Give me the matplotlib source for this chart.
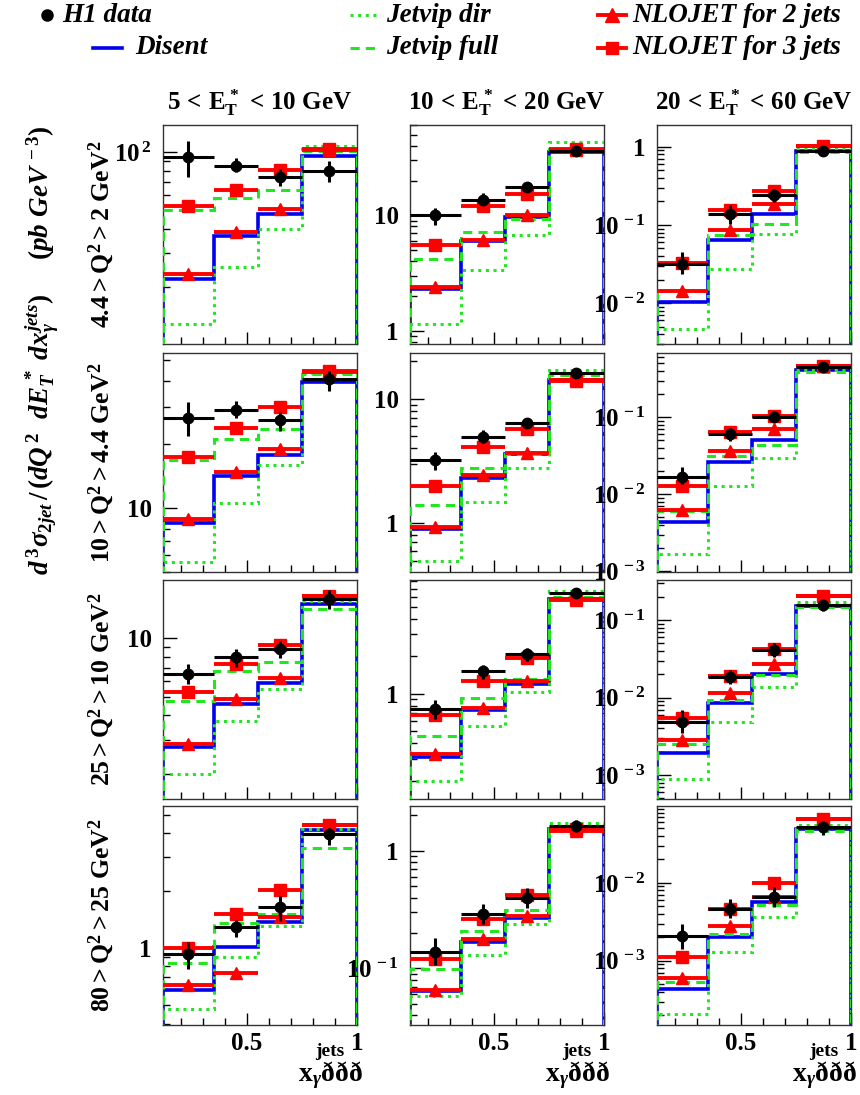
import numpy as np
import matplotlib
matplotlib.use('Agg')
import matplotlib.pyplot as plt
from matplotlib.lines import Line2D
from matplotlib.ticker import FixedLocator, LogLocator, NullFormatter, FuncFormatter

plt.rcParams['font.family'] = ['Liberation Serif', 'DejaVu Serif']
plt.rcParams['font.weight'] = 'bold'
plt.rcParams['mathtext.fontset'] = 'custom'
plt.rcParams['mathtext.rm'] = 'Liberation Serif:bold'
plt.rcParams['mathtext.it'] = 'Liberation Serif:italic:bold'
plt.rcParams['mathtext.bf'] = 'Liberation Serif:bold'

# -----------------------------------------------------------------------------
# x_gamma bins and panel labels

edges = [0.12, 0.35, 0.55, 0.75, 1.0]

et_titles = [r'$\mathrm{5\,<\,E_T^{\,*}\,<\,10\ GeV}$',
             r'$\mathrm{10\,<\,E_T^{\,*}\,<\,20\ GeV}$',
             r'$\mathrm{20\,<\,E_T^{\,*}\,<\,60\ GeV}$']

q2_labels = [r'$\mathrm{4.4 > Q^2 > 2\ GeV^2}$',
             r'$\mathrm{10 > Q^2 > 4.4\ GeV^2}$',
             r'$\mathrm{25 > Q^2 > 10\ GeV^2}$',
             r'$\mathrm{80 > Q^2 > 25\ GeV^2}$']

# values [Q2 row][ET column][x_gamma bin]
h1 = [[[94, 85, 74.5, 80], [10, 13.7, 17.6, 36], [0.0318, 0.14, 0.24, 0.88]],
      [[26.6, 29.1, 26, 40.8], [3.22, 4.98, 6.35, 16.2], [0.0168, 0.0606, 0.102, 0.45]],
      [[6.5, 7.98, 8.81, 15.8], [0.757, 1.51, 2.1, 6.4], [0.0049, 0.0185, 0.041, 0.156]],
      [[0.927, 1.29, 1.64, 3.98], [0.139, 0.287, 0.40, 1.63], [0.0021, 0.0046, 0.0066, 0.052]]]

h1_lo = [[[74, 79, 67, 70], [8.3, 12.2, 16, 33.3], [0.0238, 0.104, 0.197, 0.78]],
         [[21.9, 26.6, 23.2, 35.8], [2.66, 4.45, 5.82, 15.5], [0.0135, 0.0496, 0.086, 0.40]],
         [[5.81, 7.09, 7.92, 14.0], [0.629, 1.32, 1.83, 6.0], [0.0035, 0.0149, 0.033, 0.132]],
         [[0.774, 1.146, 1.38, 3.48], [0.107, 0.236, 0.329, 1.45], [0.0014, 0.0035, 0.0049, 0.041]]]

h1_hi = [[[114, 93, 82, 90], [11.6, 15.6, 19.5, 39.3], [0.045, 0.179, 0.292, 1.0]],
         [[31.8, 32.1, 28.3, 44.6], [3.76, 5.61, 7.01, 17.2], [0.0227, 0.0726, 0.12, 0.50]],
         [[7.32, 8.81, 9.65, 17.5], [0.894, 1.71, 2.33, 6.8], [0.0069, 0.0226, 0.050, 0.18]],
         [[1.075, 1.4, 1.88, 4.26], [0.18, 0.35, 0.486, 1.83], [0.003, 0.0062, 0.0089, 0.062]]]

nlo3 = [[[52.5, 63.4, 81, 104], [5.56, 12.0, 15.4, 37.2], [0.0326, 0.154, 0.27, 1.03]],
        [[17.4, 23.8, 29.9, 44.2], [2.0, 4.1, 5.71, 14.3], [0.013, 0.0637, 0.105, 0.47]],
        [[5.27, 7.32, 9.17, 16.4], [0.677, 1.27, 1.94, 5.72], [0.0054, 0.0189, 0.0418, 0.204]],
        [[1.0, 1.51, 2.02, 4.43], [0.119, 0.265, 0.424, 1.54], [0.00112, 0.0046, 0.01, 0.066]]]

nlo2 = [[[23.5, 38.8, 50.8, 102], [2.38, 6.06, 10, 37], [0.0142, 0.087, 0.188, 1.03]],
        [[8.9, 14.8, 19.1, 43.9], [0.94, 2.43, 3.70, 14.0], [0.0062, 0.0368, 0.0705, 0.47]],
        [[2.87, 4.85, 6.22, 16.4], [0.328, 0.77, 1.27, 5.65], [0.0028, 0.0115, 0.0275, 0.204]],
        [[0.638, 0.743, 1.45, 4.43], [0.066, 0.176, 0.276, 1.48], [0.00061, 0.0028, 0.0066, 0.066]]]

disent = [[[22.2, 37, 47.9, 96], [2.3, 5.94, 9.67, 35.5], [0.0104, 0.064, 0.137, 0.89]],
          [[8.55, 14.2, 17.9, 39.6], [0.9, 2.32, 3.58, 14.3], [0.0044, 0.0259, 0.0512, 0.406]],
          [[2.74, 4.59, 5.89, 14.9], [0.308, 0.743, 1.2, 5.72], [0.0019, 0.0084, 0.020, 0.152]],
          [[0.603, 1.01, 1.37, 4.14], [0.064, 0.169, 0.27, 1.54], [0.00044, 0.002, 0.0057, 0.049]]]

jv_full = [[[50.5, 58, 63.4, 101], [4.14, 7.16, 9.35, 36.7], [0.0142, 0.074, 0.104, 0.87]],
           [[16.9, 21.1, 23.6, 43], [1.39, 2.79, 3.63, 15.5], [0.006, 0.031, 0.044, 0.386]],
           [[4.74, 6.76, 7.49, 14.05], [0.46, 0.93, 1.3, 6.0], [0.0025, 0.0094, 0.0193, 0.146]],
           [[0.83, 1.36, 1.5, 3.34], [0.098, 0.206, 0.316, 1.63], [0.00054, 0.0022, 0.0052, 0.046]]]

jv_dir = [[[12.9, 25.6, 40, 107], [1.14, 3.37, 6.79, 42.8], [0.0047, 0.0276, 0.076, 0.95]],
          [[5.6, 10.6, 16.0, 43.3], [0.5, 1.48, 2.79, 17.2], [0.0017, 0.013, 0.03, 0.414]],
          [[2.0, 3.76, 5.44, 15.5], [0.197, 0.545, 1.03, 6.7], [0.00089, 0.0049, 0.0137, 0.173]],
          [[0.478, 0.897, 1.3, 4.2], [0.058, 0.131, 0.236, 1.73], [0.00021, 0.0013, 0.0037, 0.055]]]

ylims = [[(10.2, 138), (0.766, 60.6), (0.003, 1.9)],
         [(5.0, 54), (0.405, 23.4), (0.00098, 0.684)],
         [(1.49, 19.8), (0.142, 8.2), (0.00049, 0.33)],
         [(0.394, 5.56), (0.033, 2.4), (0.00015, 0.097)]]

# -----------------------------------------------------------------------------

W, H = 860., 1095.
fig = plt.figure(figsize=(W / 100., H / 100.), dpi=100)


def px(x):
    return x / W


def py(y):
    return 1. - y / H


lefts = [163, 410, 657]
tops = [125, 353, 580, 806]
pw, ph = 194, 219

edges_a = np.array(edges)
centers = 0.5 * (edges_a[1:] + edges_a[:-1])
halfw = 0.5 * (edges_a[1:] - edges_a[:-1])

green = '#22e622'


def ylab(v, pos):
    e = int(round(np.log10(v)))
    if e == 0:
        return '1'
    if e == 1:
        return '10'
    return r'$\mathrm{10^{\,%d}}$' % e


for r in range(4):
    for c in range(3):
        ax = fig.add_axes([px(lefts[c]), py(tops[r] + ph), px(pw), ph / H])
        ax.set_yscale('log')

        ax.stairs(disent[r][c], edges, baseline=1e-9, color='#0000ee', lw=2.6, zorder=2)
        ax.stairs(jv_full[r][c], edges, baseline=1e-9, color=green, lw=2.2,
                  ls=(0, (3, 2)), zorder=3)
        ax.stairs(jv_dir[r][c], edges, baseline=1e-9, color=green, lw=2.2,
                  ls=(0, (1, 1.5)), zorder=3)

        ax.errorbar(centers, nlo2[r][c], xerr=halfw, fmt='^', color='red', ms=9,
                    elinewidth=2.8, capsize=0, zorder=4)
        ax.errorbar(centers, nlo3[r][c], xerr=halfw, fmt='s', color='red', ms=8,
                    elinewidth=2.8, capsize=0, zorder=4)

        v = np.array(h1[r][c])
        lo = np.array(h1_lo[r][c])
        hi = np.array(h1_hi[r][c])
        ax.errorbar(centers, v, xerr=halfw, yerr=[v - lo, hi - v], fmt='o', color='k',
                    ms=7.5, elinewidth=2.2, capsize=0, zorder=5)

        ax.set_xlim(0.12, 1.0)
        ax.set_ylim(*ylims[r][c])

        y0, y1 = ylims[r][c]
        majors = [10. ** e for e in range(-6, 4) if y0 <= 10. ** e <= y1]
        ax.yaxis.set_major_locator(FixedLocator(majors))
        ax.yaxis.set_major_formatter(FuncFormatter(ylab))
        ax.yaxis.set_minor_locator(LogLocator(base=10, subs=np.arange(2, 10), numticks=20))
        ax.yaxis.set_minor_formatter(NullFormatter())

        ax.xaxis.set_major_locator(FixedLocator([0.5, 1.0]))
        ax.xaxis.set_minor_locator(FixedLocator([0.2, 0.3, 0.4, 0.6, 0.7, 0.8, 0.9]))
        if r == 3:
            ax.set_xticklabels(['0.5', '1'])
        else:
            ax.set_xticklabels([])

        ax.tick_params(axis='y', which='major', direction='in', length=10, width=1,
                       left=True, right=False, labelsize=18, pad=8)
        ax.tick_params(axis='y', which='minor', direction='in', length=5, width=1,
                       left=True, right=False)
        ax.tick_params(axis='x', which='major', direction='in', length=9, width=1,
                       bottom=True, top=False, labelsize=18, pad=5)
        ax.tick_params(axis='x', which='minor', direction='in', length=5, width=1,
                       bottom=True, top=False)
        for s in ax.spines.values():
            s.set_linewidth(1.0)
            s.set_color('#333333')

        if r == 3:
            ax.text(1.03, -0.255, r'x$_{\gamma}$ððð', transform=ax.transAxes,
                    ha='right', va='baseline', fontsize=20)
            ax.text(0.86, -0.14, 'jets', transform=ax.transAxes,
                    ha='center', va='baseline', fontsize=14)

# column titles and row labels
for c in range(3):
    fig.text(px(lefts[c] + pw / 2.), py(103), et_titles[c], ha='center', va='center',
             fontsize=18)
for r in range(4):
    fig.text(px(101), py(tops[r] + ph / 2.), q2_labels[r], ha='center', va='center',
             rotation=90, fontsize=18.5)

fig.text(px(42), py(350),
         r'$d^{\,3}\sigma_{2jet}\,/\,(dQ^{\,2}\ \ dE_T^{\,*}\ dx_{\gamma}^{jets})'
         r'\quad\ \ (pb\ GeV^{\,-3})$',
         ha='center', va='center', rotation=90, fontsize=19.5)

# legend
lg = dict(fontsize=19.5, style='italic', weight='bold', va='center', ha='left')

fig.add_artist(Line2D([px(47)], [py(15)], marker='o', color='k', ms=8,
                      transform=fig.transFigure))
fig.text(px(62), py(15), 'H1 data', **lg)

fig.add_artist(Line2D([px(93), px(122)], [py(48), py(48)], color='#0000ee', lw=2.6,
                      transform=fig.transFigure))
fig.text(px(135), py(48), 'Disent', **lg)

fig.add_artist(Line2D([px(350), px(380)], [py(15), py(15)], color=green, lw=2.2,
                      ls=(0, (1, 1.5)), transform=fig.transFigure))
fig.text(px(386), py(15), 'Jetvip dir', **lg)

fig.add_artist(Line2D([px(350), px(380)], [py(48), py(48)], color=green, lw=2.2,
                      ls=(0, (3, 2)), transform=fig.transFigure))
fig.text(px(386), py(48), 'Jetvip full', **lg)

fig.add_artist(Line2D([px(598), px(626)], [py(15), py(15)], color='red', lw=2.8,
                      transform=fig.transFigure))
fig.add_artist(Line2D([px(612)], [py(15)], marker='^', color='red', ms=10,
                      transform=fig.transFigure))
fig.text(px(632), py(15), 'NLOJET for 2 jets', **lg)

fig.add_artist(Line2D([px(598), px(626)], [py(48), py(48)], color='red', lw=2.8,
                      transform=fig.transFigure))
fig.add_artist(Line2D([px(612)], [py(48)], marker='s', color='red', ms=9,
                      transform=fig.transFigure))
fig.text(px(632), py(48), 'NLOJET for 3 jets', **lg)

fig.savefig('out.png', dpi=100)
